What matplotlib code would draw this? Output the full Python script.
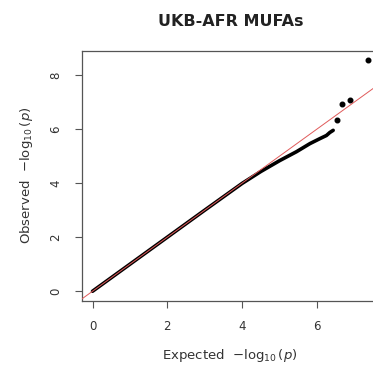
import matplotlib
matplotlib.use("Agg")
import matplotlib.pyplot as plt

# QQ curve (expected vs observed -log10 p)
curve_expected = [0.0, 1.0, 2.0, 3.0, 4.0, 4.5, 5.0, 5.45, 5.81, 6.07, 6.25, 6.34, 6.43]
curve_observed = [0.0, 1.0, 2.0, 3.0, 3.99, 4.43, 4.83, 5.16, 5.46, 5.64, 5.76, 5.87, 5.95]
# top isolated points
top_expected = [6.52, 6.67, 6.89, 7.36]
top_observed = [6.33, 6.93, 7.07, 8.56]

x_ticks = [0, 2, 4, 6]
y_ticks = [0, 2, 4, 6, 8]
title = "UKB-AFR MUFAs"

W, H = 373, 370
fig = plt.figure(figsize=(W / 100, H / 100), dpi=100)
left, right, top, bottom = 81.5, 379.0, 50.5, 300.5
ax = fig.add_axes([left / W, 1 - bottom / H, (right - left) / W, (bottom - top) / H])

ax.plot(curve_expected, curve_observed, color="black", lw=2.6, solid_capstyle="round", zorder=2)
ax.plot(top_expected, top_observed, "o", color="black", ms=3.3, zorder=2)

xmax = max(top_expected)
ymax = max(top_observed)
ax.set_xlim(-0.04 * xmax, 1.04 * xmax)
ax.set_ylim(-0.04 * ymax, 1.04 * ymax)
ax.axline((0, 0), slope=1, color="#e05a5a", lw=0.7, zorder=3)

ax.set_xticks(x_ticks)
ax.set_yticks(y_ticks)
ax.set_yticklabels([str(t) for t in y_ticks], rotation=90, va="center")
ax.tick_params(length=5, width=0.8, color="#555555", labelsize=8.5, labelcolor="#333333", pad=9)
for s in ax.spines.values():
    s.set_color("#555555")
    s.set_linewidth(0.9)

ax.set_xlabel(r"Expected  $-\log_{10}(p)$", fontsize=9.5, color="#333333", labelpad=10)
ax.set_ylabel(r"Observed  $-\log_{10}(p)$", fontsize=9.5, color="#333333", labelpad=10)
ax.set_title(title, fontsize=11.5, fontweight="bold", color="#222222", pad=18)

fig.savefig("out.png", dpi=100)
